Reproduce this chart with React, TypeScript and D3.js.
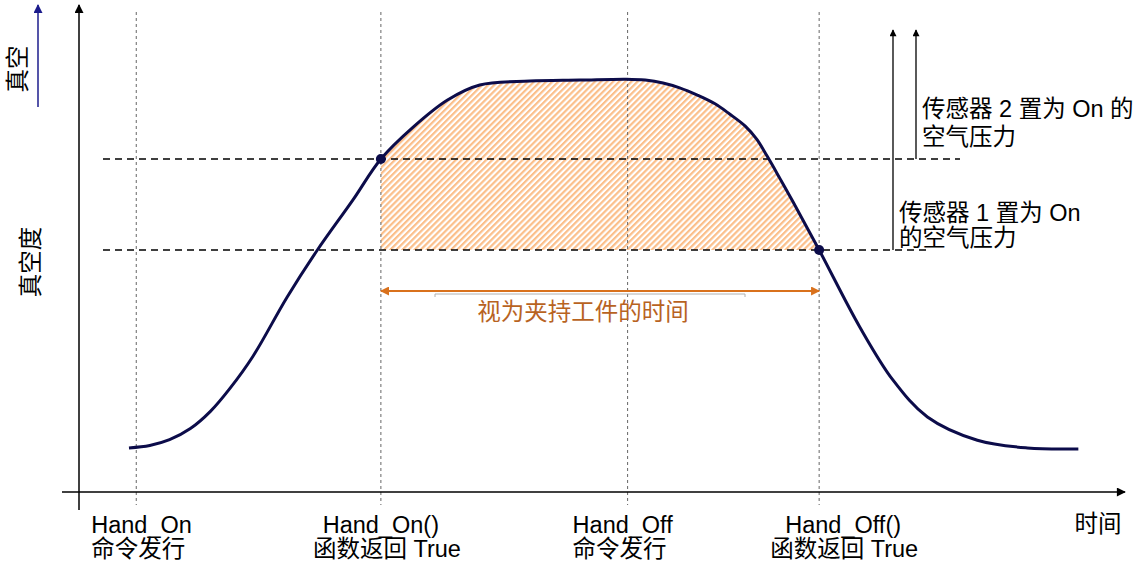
import React from "react";
import * as d3 from "d3";

// ---- data ----
const timeValues = [4.8, 6.8, 8.7, 10.7, 12.6, 14.5, 16.7, 20.0, 22.9, 26.3, 29.0, 32.1, 35.4, 38.5, 43.3, 48.1, 52.6, 54.4, 56.1, 57.7, 59.4, 61.1, 62.5, 64.0, 65.1, 66.1, 67.3, 68.6, 71.1, 75.0, 78.2, 81.5, 86.3, 91.1, 96.0];
const vacuumValues = [9.1, 9.6, 10.8, 13.1, 16.6, 21.4, 28.0, 40.3, 50.0, 60.3, 68.8, 75.4, 81.0, 84.1, 84.9, 85.1, 85.3, 85.1, 84.5, 83.5, 82.0, 80.2, 78.1, 75.6, 72.9, 69.4, 64.9, 59.9, 50.0, 34.1, 23.1, 15.5, 10.7, 9.1, 8.9];
const eventTimes = [5.5, 29.0, 52.7, 71.1];
const eventLine1 = ["Hand_On", "Hand_On()", "Hand_Off", "Hand_Off()"];
const eventLine2 = ["命令发行", "函数返回 True", "命令发行", "函数返回 True"];
const sensor2Threshold = 68.8;
const sensor1Threshold = 50.0;
const holdStart = 29.0;
const holdEnd = 71.1;
const sensor2Label = ["传感器 2 置为 On 的", "空气压力"];
const sensor1Label = ["传感器 1 置为 On", "的空气压力"];
const holdLabel = "视为夹持工件的时间";
const xAxisLabel = "时间";
const yAxisLabel = "真空度";
const yArrowLabel = "真空";

// ---- layout ----
const W = 1145;
const H = 564;
const FONT = "'Liberation Sans', Arial, 'Noto Sans CJK SC', sans-serif";
const FS = 23.5;
const NAVY = "#0c0c4a";

export default function App() {
  const x = d3.scaleLinear().domain([0, 100]).range([79, 1120]);
  const y = d3.scaleLinear().domain([0, 100]).range([492, 8]);
  const pts = timeValues.map((t, i) => [t, vacuumValues[i]] as [number, number]);

  const line = d3
    .line<[number, number]>()
    .x((d) => x(d[0]))
    .y((d) => y(d[1]))
    .curve(d3.curveCatmullRom.alpha(0.5));
  const area = d3
    .area<[number, number]>()
    .x((d) => x(d[0]))
    .y0(y(sensor1Threshold))
    .y1((d) => y(d[1]))
    .curve(d3.curveCatmullRom.alpha(0.5));

  const axisY = 492;
  const axisX = 79;
  const ySens2 = y(sensor2Threshold);
  const ySens1 = y(sensor1Threshold);
  const xs = x(holdStart);
  const xe = x(holdEnd);
  const arrowY = 291;

  // label placement per event: [anchor, dx line1, dx line2]
  const labelLayout: [string, number, number][] = [
    ["start", -45, -45],
    ["middle", 0, 6],
    ["start", -55, -55],
    ["middle", 24, 25],
  ];

  return (
    <svg
      width={W}
      height={H}
      style={{ position: "absolute", left: 0, top: 0, background: "#fff" }}
      fontFamily={FONT}
    >
      <defs>
        <marker id="ahBlack" viewBox="0 0 10 10" refX="9" refY="5" markerWidth="10" markerHeight="9" markerUnits="userSpaceOnUse" orient="auto">
          <path d="M0,0 L10,5 L0,10 z" fill="#000" />
        </marker>
        <marker id="ahSmall" viewBox="0 0 10 10" refX="9" refY="5" markerWidth="9" markerHeight="7" markerUnits="userSpaceOnUse" orient="auto">
          <path d="M0,0 L10,5 L0,10 z" fill="#000" />
        </marker>
        <marker id="ahBlue" viewBox="0 0 10 10" refX="9" refY="5" markerWidth="10" markerHeight="9" markerUnits="userSpaceOnUse" orient="auto">
          <path d="M0,0 L10,5 L0,10 z" fill="#1c1c8c" />
        </marker>
        <marker id="ahOrange" viewBox="0 0 10 10" refX="9" refY="5" markerWidth="11" markerHeight="9" markerUnits="userSpaceOnUse" orient="auto-start-reverse">
          <path d="M0,0 L10,5 L0,10 z" fill="#d9711c" />
        </marker>
        <pattern id="hatch" patternUnits="userSpaceOnUse" width="4.3" height="10" patternTransform="rotate(45)">
          <rect x="0" y="0" width="2.2" height="10" fill="#fbbf8a" />
        </pattern>
        <clipPath id="holdClip">
          <rect x={xs} y={0} width={xe - xs} height={ySens1} />
        </clipPath>
      </defs>

      {/* hatched hold region */}
      <path d={area(pts) ?? ""} fill="url(#hatch)" clipPath="url(#holdClip)" />

      {/* event vertical dotted lines */}
      {eventTimes.map((t, i) => (
        <line key={"ev" + i} x1={x(t)} x2={x(t)} y1={12} y2={505} stroke="#666" strokeWidth={1} strokeDasharray="3,3" />
      ))}

      {/* threshold dashed lines */}
      <line x1={103} x2={960} y1={ySens2} y2={ySens2} stroke="#000" strokeWidth={1.3} strokeDasharray="7,5" />
      <line x1={103} x2={928} y1={ySens1} y2={ySens1} stroke="#000" strokeWidth={1.3} strokeDasharray="7,5" />

      {/* axes */}
      <line x1={62} x2={1125} y1={axisY} y2={axisY} stroke="#000" strokeWidth={1.5} markerEnd="url(#ahBlack)" />
      <line x1={axisX} x2={axisX} y1={510} y2={5} stroke="#000" strokeWidth={1.5} markerEnd="url(#ahBlack)" />
      <line x1={38} x2={38} y1={107} y2={5} stroke="#1c1c8c" strokeWidth={1.5} markerEnd="url(#ahBlue)" />

      {/* right threshold arrows */}
      <line x1={893} x2={893} y1={ySens1} y2={30} stroke="#000" strokeWidth={1.3} markerEnd="url(#ahSmall)" />
      <line x1={916} x2={916} y1={ySens2} y2={30} stroke="#000" strokeWidth={1.3} markerEnd="url(#ahSmall)" />

      {/* curve */}
      <path d={line(pts) ?? ""} fill="none" stroke={NAVY} strokeWidth={3} />
      <circle cx={xs} cy={ySens2} r={5} fill={NAVY} />
      <circle cx={xe} cy={ySens1} r={5} fill={NAVY} />

      {/* hold duration arrow */}
      <line x1={xs} x2={xe} y1={arrowY} y2={arrowY} stroke="#d9711c" strokeWidth={2} markerStart="url(#ahOrange)" markerEnd="url(#ahOrange)" />
      <path d={`M435,297 L435,294 L745,294 L745,297`} fill="none" stroke="#b0b0b0" strokeWidth={1} />
      <text x={(xs + xe) / 2 - 17} y={320} fontSize={FS} fill="#b8631f" textAnchor="middle">{holdLabel}</text>

      {/* sensor labels */}
      <text x={922} y={117} fontSize={FS} fill="#000">{sensor2Label[0]}</text>
      <text x={922} y={145} fontSize={FS} fill="#000">{sensor2Label[1]}</text>
      <text x={899} y={221} fontSize={FS} fill="#000">{sensor1Label[0]}</text>
      <text x={899} y={246} fontSize={FS} fill="#000">{sensor1Label[1]}</text>

      {/* event labels */}
      {eventTimes.map((t, i) => {
        const [anchor, d1, d2] = labelLayout[i];
        return (
          <g key={"lbl" + i}>
            <text x={x(t) + d1} y={533} fontSize={FS} textAnchor={anchor as any} fill="#000">{eventLine1[i]}</text>
            <text x={x(t) + d2} y={557} fontSize={FS} textAnchor={anchor as any} fill="#000">{eventLine2[i]}</text>
          </g>
        );
      })}

      {/* axis labels */}
      <text x={1098} y={532} fontSize={FS} textAnchor="middle" fill="#000">{xAxisLabel}</text>
      <text transform="translate(31,262) rotate(-90)" fontSize={FS} textAnchor="middle" dominantBaseline="central" fill="#000">{yAxisLabel}</text>
      <text transform="translate(18,69) rotate(-90)" fontSize={FS} textAnchor="middle" dominantBaseline="central" fill="#000">{yArrowLabel}</text>
    </svg>
  );
}
